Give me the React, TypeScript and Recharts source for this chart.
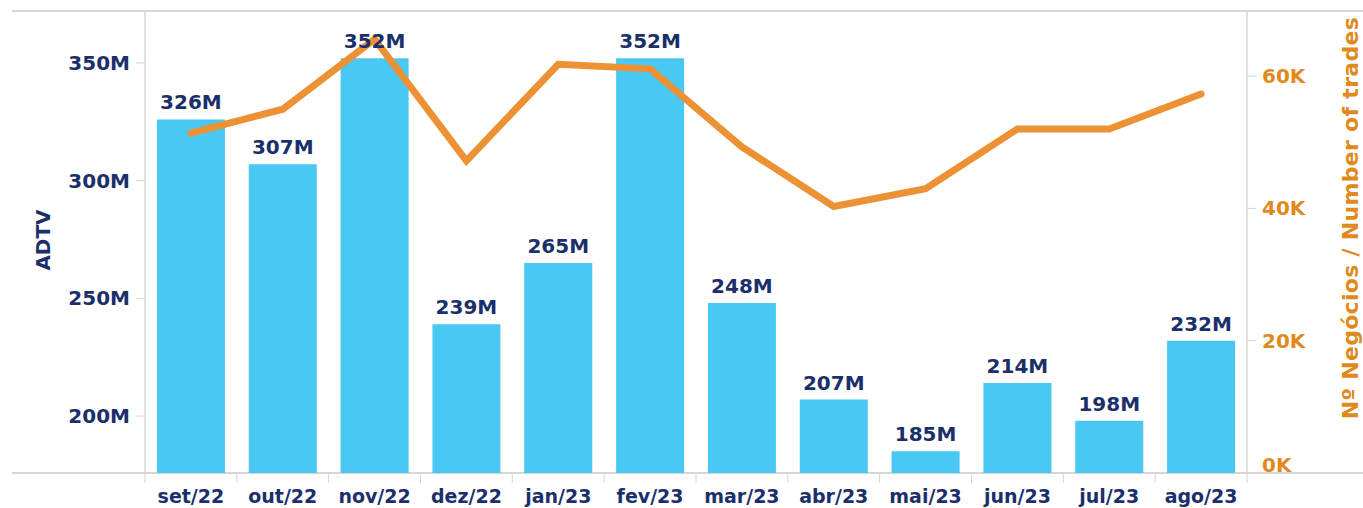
import React from "react";
import {
  Bar,
  ComposedChart,
  LabelList,
  Line,
  XAxis,
  YAxis,
} from "recharts";

const months = [
  "set/22", "out/22", "nov/22", "dez/22", "jan/23", "fev/23",
  "mar/23", "abr/23", "mai/23", "jun/23", "jul/23", "ago/23",
];
// ADTV in millions
const adtv = [326, 307, 352, 239, 265, 352, 248, 207, 185, 214, 198, 232];
// number of trades
const trades = [
  51400, 55000, 65600, 47200, 61800, 61100,
  49300, 40300, 43000, 52000, 52000, 57300,
];
const adtvTicks = [200, 250, 300, 350];
const tradeTicks = [0, 20000, 40000, 60000];

const data = months.map((m, i) => ({ month: m, adtv: adtv[i], trades: trades[i] }));

const NAVY = "#1B2F6B";
const ORANGE_TXT = "#E08A1E";
const ORANGE_LINE = "#EC9234";
const BLUE = "#48C8F3";
const FRAME = "#D6D6D6";
const FONT = "'DejaVu Sans', sans-serif";

function XTick(props: any) {
  const { x, y, payload } = props;
  const half = payload.offset || 45.9;
  return (
    <g>
      <line x1={x - half} x2={x - half} y1={y} y2={y + 10} stroke={FRAME} />
      {payload.index === months.length - 1 && (
        <line x1={x + half} x2={x + half} y1={y} y2={y + 10} stroke={FRAME} />
      )}
      <text
        x={x}
        y={y + 30}
        textAnchor="middle"
        fill={NAVY}
        fontFamily={FONT}
        fontWeight="bold"
        fontSize={19}
      >
        {payload.value}
      </text>
    </g>
  );
}

function RightTick(props: any) {
  const { x, y, payload } = props;
  const shift = payload.value === 0 ? -8 : 0;
  return (
    <text
      x={x}
      y={y + shift}
      dy={7}
      textAnchor="start"
      fill={ORANGE_TXT}
      fontFamily={FONT}
      fontWeight="bold"
      fontSize={20}
    >
      {`${payload.value / 1000}K`}
    </text>
  );
}

export default function App() {
  return (
    <div style={{ position: "absolute", left: 0, top: 0, width: 1363, height: 508, background: "#fff" }}>
      <div style={{ position: "absolute", left: 12, right: 0, top: 10, height: 1.5, background: FRAME }} />
      <div style={{ position: "absolute", left: 12, right: 0, top: 472, height: 1.5, background: FRAME }} />
      <ComposedChart
        width={1363}
        height={508}
        data={data}
        margin={{ top: 10, right: 0, bottom: 0, left: 0 }}
        barCategoryGap="13%"
      >
        <XAxis
          dataKey="month"
          height={35}
          axisLine={false}
          tickLine={false}
          tickSize={0}
          tickMargin={0}
          interval={0}
          tick={<XTick />}
        />
        <YAxis
          yAxisId="left"
          width={145}
          domain={[175.8, 372.5]}
          ticks={adtvTicks}
          allowDataOverflow
          axisLine={{ stroke: FRAME, strokeWidth: 1.5 }}
          tickLine={{ stroke: FRAME }}
          tickSize={9}
          tickMargin={6}
          tick={{ fill: NAVY, fontFamily: FONT, fontWeight: "bold", fontSize: 20 }}
          tickFormatter={(v: number) => `${v}M`}
          label={{
            content: () => (
              <text
                x={43}
                y={240}
                transform="rotate(-90 43 240)"
                textAnchor="middle"
                dominantBaseline="central"
                fill={NAVY}
                fontFamily={FONT}
                fontWeight="bold"
                fontSize={20}
              >
                ADTV
              </text>
            ),
          }}
        />
        <YAxis
          yAxisId="right"
          orientation="right"
          width={116}
          domain={[0, 70000]}
          ticks={tradeTicks}
          axisLine={{ stroke: FRAME, strokeWidth: 1.5 }}
          tickLine={{ stroke: FRAME }}
          tickSize={9}
          tickMargin={6}
          tick={<RightTick />}
          label={{
            content: () => (
              <text
                x={1350}
                y={218}
                transform="rotate(-90 1350 218)"
                textAnchor="middle"
                dominantBaseline="central"
                fill={ORANGE_TXT}
                fontFamily={FONT}
                fontWeight="bold"
                fontSize={22}
                letterSpacing={0.3}
              >
                Nº Negócios / Number of trades
              </text>
            ),
          }}
        />
        <Bar yAxisId="left" dataKey="adtv" fill={BLUE} isAnimationActive={false}>
          <LabelList
            dataKey="adtv"
            position="top"
            offset={10}
            formatter={(v: any) => `${v}M`}
            fill={NAVY}
            fontFamily={FONT}
            fontWeight="bold"
            fontSize={20}
          />
        </Bar>
        <Line
          yAxisId="right"
          dataKey="trades"
          type="linear"
          stroke={ORANGE_LINE}
          strokeWidth={7}
          strokeLinecap="round"
          dot={false}
          activeDot={false}
          isAnimationActive={false}
        />
      </ComposedChart>
    </div>
  );
}
